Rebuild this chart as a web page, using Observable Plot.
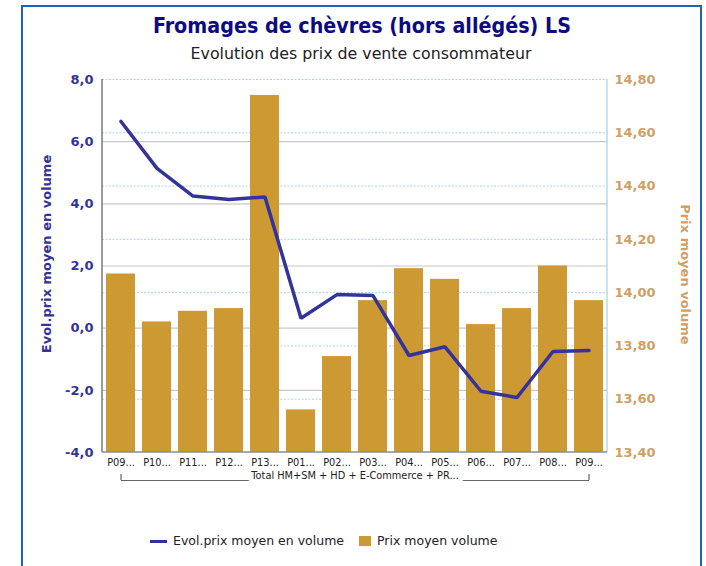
<!DOCTYPE html>
<html>
<head>
<meta charset="utf-8">
<script src="https://cdn.jsdelivr.net/npm/d3@7"></script>
<script src="https://cdn.jsdelivr.net/npm/@observablehq/plot@0.6"></script>
<style>
  html, body { margin: 0; padding: 0; background: #fff; }
  #wrap { position: relative; width: 706px; height: 566px; overflow: hidden; font-family: "DejaVu Sans", sans-serif; }
  #frame { position: absolute; left: 21px; top: 5px; width: 677px; height: 640px; border: 2px solid #1e64b4; box-sizing: content-box; }
  #title { position: absolute; left: 0; width: 724px; top: 13px; text-align: center; font-family: "DejaVu Sans Condensed", "DejaVu Sans", sans-serif; font-stretch: condensed; font-weight: bold; font-size: 21.3px; line-height: 1.2; color: #0c0c80; }
  #subtitle { position: absolute; left: 0; width: 722px; top: 45px; text-align: center; font-size: 15.8px; line-height: 1.2; color: #222; font-family: "DejaVu Sans", sans-serif; }
  #chart { position: absolute; left: 0; top: 0; }
  #legend { position: absolute; top: 532px; left: 0; width: 706px; height: 20px; font-size: 12.5px; color: #222; }
  .sw-line { position: absolute; left: 150px; top: 8px; width: 17px; height: 3px; background: #333399; }
  .sw-box { position: absolute; left: 359px; top: 4px; width: 12px; height: 10px; background: #cc9933; }
  .lt { position: absolute; top: 1px; white-space: nowrap; }
</style>
</head>
<body>
<div id="wrap">
  <div id="frame"></div>
  <div id="title">Fromages de chèvres (hors allégés) LS</div>
  <div id="subtitle">Evolution des prix de vente consommateur</div>
  <div id="chart"></div>
  <div id="legend">
    <div class="sw-line"></div><div class="lt" style="left:173px">Evol.prix moyen en volume</div>
    <div class="sw-box"></div><div class="lt" style="left:377px">Prix moyen volume</div>
  </div>
</div>
<script>
const categories = ["P09 N-1","P10 N-1","P11 N-1","P12 N-1","P13 N-1","P01 N","P02 N","P03 N","P04 N","P05 N","P06 N","P07 N","P08 N","P09 N"];
const tickLabels = ["P09...","P10...","P11...","P12...","P13...","P01...","P02...","P03...","P04...","P05...","P06...","P07...","P08...","P09..."];
const groupLabel = "Total HM+SM + HD + E-Commerce + PR...";
const evolPrix = [6.65, 5.14, 4.25, 4.14, 4.22, 0.32, 1.08, 1.05, -0.88, -0.60, -2.03, -2.23, -0.75, -0.72];
const prixMoyen = [14.07, 13.89, 13.93, 13.94, 14.74, 13.56, 13.76, 13.97, 14.09, 14.05, 13.88, 13.94, 14.10, 13.97];
const leftTicks = [-4, -2, 0, 2, 4, 6, 8];
const rightTicks = [13.4, 13.6, 13.8, 14.0, 14.2, 14.4, 14.6, 14.8];
const leftDomain = [-4, 8];
const rightDomain = [13.4, 14.8];

const toLeft = v => leftDomain[0] + (v - rightDomain[0]) / (rightDomain[1] - rightDomain[0]) * (leftDomain[1] - leftDomain[0]);
const toRight = v => rightDomain[0] + (v - leftDomain[0]) / (leftDomain[1] - leftDomain[0]) * (rightDomain[1] - rightDomain[0]);

const table = categories.map((c, i) => ({cat: c, evol: evolPrix[i], prix: prixMoyen[i]}));

const axisLines = (index, scales, values, dim) => {
  const g = d3.create("svg:g");
  const l = dim.marginLeft, r = dim.width - dim.marginRight, t = dim.marginTop, b = dim.height - dim.marginBottom;
  g.append("line").attr("x1", r).attr("x2", r).attr("y1", t).attr("y2", b).attr("stroke", "#b9d6f2").attr("stroke-width", 1.5);
  g.append("line").attr("x1", l).attr("x2", r).attr("y1", b).attr("y2", b).attr("stroke", "#8c8c8c").attr("stroke-width", 1.5);
  g.append("line").attr("x1", l).attr("x2", l).attr("y1", t).attr("y2", b).attr("stroke", "#7a7a7a").attr("stroke-width", 1.5);
  return g.node();
};

const chart = Plot.plot({
  width: 706,
  height: 500,
  marginLeft: 102,
  marginRight: 99,
  marginTop: 79,
  marginBottom: 48,
  style: {fontFamily: "DejaVu Sans, sans-serif", background: "transparent", overflow: "visible"},
  x: {domain: categories, paddingInner: 0.2, paddingOuter: 0.1},
  y: {domain: leftDomain},
  marks: [
    Plot.ruleY(rightTicks.slice(1).map(toLeft), {stroke: "#a8d0f5", strokeDasharray: "2,1.5", strokeWidth: 1}),
    Plot.ruleY(leftTicks.filter(t => t > leftDomain[0] && t < leftDomain[1]), {stroke: "#c8c8c8", strokeWidth: 1.2}),
    Plot.barY(table, {x: "cat", y1: d => leftDomain[0], y2: d => toLeft(d.prix), fill: "#cc9933"}),
    Plot.line(table, {x: "cat", y: "evol", stroke: "#333399", strokeWidth: 3.5, strokeLinejoin: "miter"}),
    axisLines,
    Plot.axisY(leftTicks, {anchor: "left", tickSize: 0, tickPadding: 9, tickFormat: d => d.toFixed(1).replace(".", ","), fontSize: 13, fontWeight: "bold", fill: "#333399", label: null}),
    Plot.axisY(rightTicks.map(toLeft), {anchor: "right", tickSize: 0, tickPadding: 7, tickFormat: d => toRight(d).toFixed(2).replace(".", ","), fontSize: 13, fontWeight: "bold", fill: "#cf9f66", label: null}),
    Plot.text(["Evol.prix moyen en volume"], {frameAnchor: "left", textAnchor: "middle", rotate: -90, dx: -56, dy: -12, fontSize: 13, fontWeight: "bold", fill: "#333399"}),
    Plot.text(["Prix moyen volume"], {frameAnchor: "right", textAnchor: "middle", rotate: 90, dx: 78, dy: 8.5, fontSize: 13, fontWeight: "bold", fill: "#cf9f66"}),
    Plot.link([0], {x1: () => categories[0], x2: () => categories[categories.length - 1], y1: () => leftDomain[0], y2: () => leftDomain[0], dy: 28, stroke: "#666", strokeWidth: 1.2}),
    Plot.ruleX([categories[0], categories[categories.length - 1]], {y1: () => leftDomain[0], y2: () => leftDomain[0], insetTop: 22, insetBottom: -28, stroke: "#666", strokeWidth: 1.2}),
    Plot.text([groupLabel], {frameAnchor: "bottom", dy: 26.5, fontSize: 9.8, fill: "#222", stroke: "white", strokeWidth: 10}),
    Plot.axisX({tickSize: 0, tickPadding: 7, tickFormat: d => tickLabels[categories.indexOf(d)], fontSize: 9.8, fill: "#222", label: null})
  ]
});
document.getElementById("chart").appendChild(chart);
</script>
</body>
</html>
